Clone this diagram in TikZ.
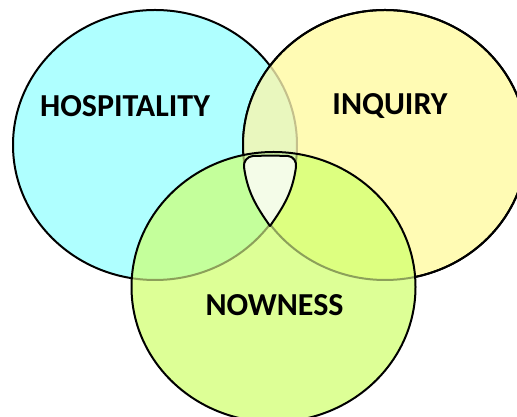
\documentclass[tikz,border=0pt]{standalone}
\usepackage{fontspec}
\setmainfont{Carlito}
\definecolor{cL}{RGB}{175,255,255}
\definecolor{cR}{RGB}{255,251,180}
\definecolor{cB}{RGB}{221,255,150}
\definecolor{cLR}{RGB}{233,247,190}
\definecolor{cLB}{RGB}{196,255,155}
\definecolor{cRB}{RGB}{221,255,128}
\definecolor{cLRB}{RGB}{214,250,170}
\definecolor{cW}{RGB}{244,252,232}
\definecolor{faintA}{RGB}{196,192,140}
\definecolor{faintB}{RGB}{140,160,90}
\newcommand\Lpath{(155,272) ellipse[x radius=142pt,y radius=135pt]}
\newcommand\Rpath{(385,272) ellipse[x radius=142pt,y radius=135pt]}
\newcommand\Bpath{(273.5,130) ellipse[x radius=142pt,y radius=135pt]}
\tikzset{
  edge/.style={draw=black,line width=2pt},
  faint/.style={line width=2pt},
  lab/.style={font=\bfseries\fontsize{32}{38}\selectfont,text=black,inner sep=0pt}
}
\begin{document}
\begin{tikzpicture}[x=1pt,y=1pt]
\useasboundingbox (0,0) rectangle (517,417);
\clip (0,0) rectangle (517,417);
% left circle
\fill[cL] \Lpath;
\draw[edge] \Lpath;
% right circle
\fill[cR] \Rpath;
\draw[edge] \Rpath;
\begin{scope}
  \clip \Rpath;
  \fill[cLR] \Lpath;
  \draw[faint,draw=faintA] \Lpath;
\end{scope}
\draw[edge] \Rpath;
% bottom circle
\fill[cB] \Bpath;
\begin{scope}
  \clip \Bpath;
  \fill[cLB] \Lpath;
  \fill[cRB] \Rpath;
  \begin{scope}
    \clip \Lpath;
    \fill[cLRB] \Rpath;
  \end{scope}
  \draw[faint,draw=faintB] \Lpath;
  \draw[faint,draw=faintB] \Rpath;
\end{scope}
\draw[edge] \Bpath;
% centre shape
\coordinate (wa) at (253,261);
\coordinate (wb) at (288,261);
\coordinate (wc) at (296,250);
\coordinate (wt) at (270,191);
\coordinate (wd) at (244,250);
\draw[edge,fill=cW,line join=round] (wa) to[out=2,in=178] (wb)
  to[out=-2,in=82] (wc) to[out=262,in=55] (wt)
  to[out=125,in=278] (wd) to[out=98,in=182] (wa) -- cycle;
% labels
\node[lab] (hosp) at (125,311) {HOSPITALITY};
\node[lab] (inq) at (390,311) {INQUIRY};
\node[lab] (now) at (274.5,112) {NOWNESS};
\end{tikzpicture}
\end{document}
